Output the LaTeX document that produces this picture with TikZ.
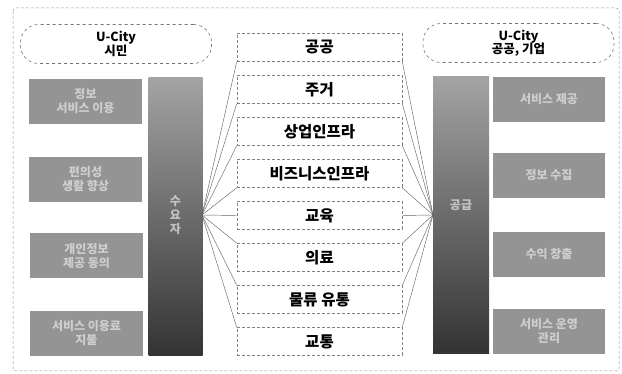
\documentclass[tikz,border=0pt]{standalone}
\usepackage{fontspec}
\setmainfont{Noto Sans CJK KR}
\begin{document}
\begin{tikzpicture}[x=1pt,y=-1pt,
  frame/.style={draw=black!40, densely dashed, line width=0.5pt, rounded corners=3pt},
  pill/.style={draw=black!55, dashed, line width=0.6pt, rounded corners=18pt,
    minimum width=191pt, minimum height=39pt, inner sep=0pt, align=center,
    font=\bfseries\fontsize{12.5}{13.5}\selectfont},
  cbox/.style={draw=black!50, densely dashed, line width=0.6pt,
    minimum width=165pt, minimum height=28pt, inner sep=0pt,
    font=\bfseries\fontsize{15.5}{17}\selectfont},
  gbox/.style={fill=black!42, minimum width=112pt, minimum height=45pt, inner sep=0pt,
    align=center, text=white, text opacity=0.55, font=\bfseries\fontsize{12}{14}\selectfont},
  gbar/.style={top color=black!36, middle color=black!44, bottom color=black!80,
    minimum width=54pt, minimum height=278pt, inner sep=0pt},
  bartext/.style={align=center, text=white, text opacity=0.6, font=\bfseries\fontsize{12}{14}\selectfont},
  link/.style={draw=black!60, line width=0.45pt}
]
\useasboundingbox (0,0) rectangle (622,374);
\draw[frame] (13,8) rectangle (619,371);

% title pills
\node[pill] (lt) at (116,44) {U-City\\시민};
\node[pill] (rt) at (518.5,43) {U-City\\공공, 기업};

% left grey boxes
\node[gbox, minimum width=113pt] (l1) at (85.5,101.5) {정보\\서비스 이용};
\node[gbox, minimum width=113pt] (l2) at (85.5,179.5) {편의성\\생활 향상};
\node[gbox, minimum width=113pt] (l3) at (86.5,256) {개인정보\\제공 동의};
\node[gbox, minimum width=113pt] (l4) at (86.5,333.5) {서비스 이용료\\지불};

% right grey boxes
\node[gbox] (r1) at (549,99.5) {서비스 제공};
\node[gbox] (r2) at (549,175.5) {정보 수집};
\node[gbox] (r3) at (549,254.5) {수익 창출};
\node[gbox] (r4) at (549,331.5) {서비스 운영\\관리};

% vertical bars
\node[gbar] (lb) at (175.5,217) {};
\node[gbar, minimum width=56pt, minimum height=277pt] (rb) at (461,215.5) {};
\node[bartext] (lbt) at (175.5,215) {수\\요\\자};
\node[bartext] (rbt) at (461,205) {공급};

\coordinate (lf) at (202,215);
\coordinate (rf) at (433,215);

% centre boxes
\foreach \t [count=\i] in {공공,주거,상업인프라,비즈니스인프라,교육,의료,물류 유통,교통}{
  \node[cbox] (c\i) at (319.5,{47.5+42*(\i-1)}) {\t};
}

% connectors
\foreach \i in {1,2,3,4}{
  \draw[link] (lf) -- (c\i.south west);
  \draw[link] (rf) -- (c\i.south east);
}
\draw[link] (lf) -- (c5.west);
\draw[link] (rf) -- (c5.east);
\foreach \i in {6,7,8}{
  \draw[link] (lf) -- (c\i.north west);
  \draw[link] (rf) -- (c\i.north east);
}
\end{tikzpicture}
\end{document}
